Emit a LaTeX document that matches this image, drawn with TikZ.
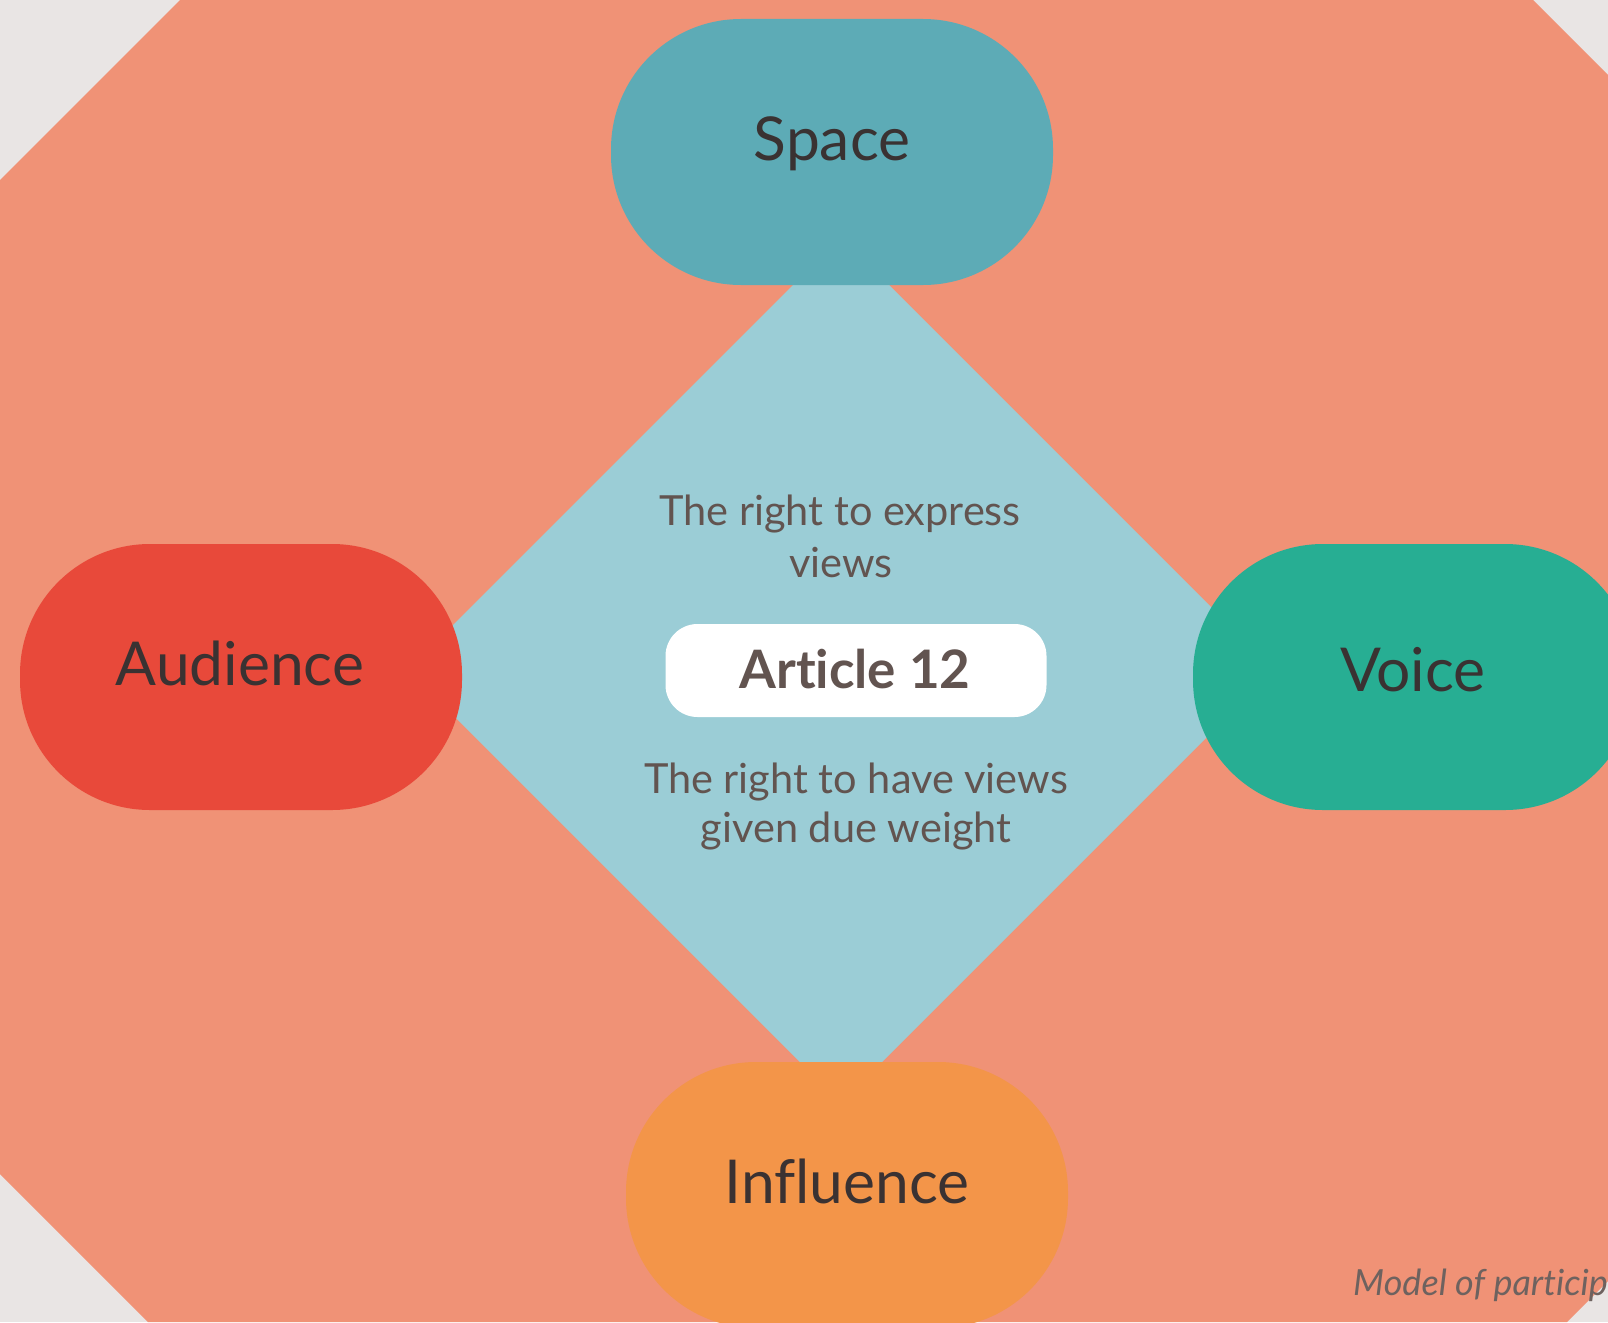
\documentclass[tikz,border=0pt]{standalone}
\usepackage{fontspec}
\setmainfont{Lato}[Ligatures=NoCommon]
\definecolor{bggrey}{HTML}{E9E5E4}
\definecolor{salmon}{HTML}{F09276}
\definecolor{diamondblue}{HTML}{9BCDD6}
\definecolor{spacecol}{HTML}{5DABB6}
\definecolor{audiencecol}{HTML}{E8493A}
\definecolor{voicecol}{HTML}{27AE93}
\definecolor{influencecol}{HTML}{F39549}
\definecolor{labeltext}{HTML}{3A3232}
\definecolor{bodytext}{HTML}{625450}
\definecolor{notetext}{HTML}{6E625F}
\tikzset{
  stadium/.style={rectangle, rounded corners=130pt, minimum width=442pt, minimum height=266pt, inner sep=0pt, draw=none},
  biglabel/.style={anchor=base, inner sep=0pt, text=labeltext, font=\fontsize{60.5}{62}\selectfont},
  bodyline/.style={anchor=base, inner sep=0pt, text=bodytext, font=\fontsize{41.5}{43}\selectfont},
  articlebox/.style={rectangle, rounded corners=32pt, minimum width=381pt, minimum height=93pt, fill=white, inner sep=0pt},
  articlelabel/.style={anchor=base, inner sep=0pt, text=bodytext, font=\bfseries\fontsize{53}{55}\selectfont},
  notelabel/.style={anchor=base west, inner sep=0pt, text=notetext, font=\itshape\fontsize{36}{38}\selectfont}
}
\begin{document}
\begin{tikzpicture}[x=1pt,y=-1pt]
\useasboundingbox (0,0) rectangle (1608,1322);
\clip (0,0) rectangle (1608,1322);
\fill[bggrey] (0,0) rectangle (1608,1322);
% octagon
\fill[salmon] (0,180) -- (180,0) -- (1533,0) -- (1608,75) -- (1608,1281) -- (1567,1322) -- (148,1322) -- (0,1174) -- cycle;
% diamond
\fill[diamondblue] (841,237) -- (1274,670) -- (841,1103) -- (408,670) -- cycle;
% four stadiums
\node[stadium, fill=spacecol] (space) at (832,152) {};
\node[stadium, fill=audiencecol] (audience) at (241,677) {};
\node[stadium, fill=voicecol] (voice) at (1414,677) {};
\node[stadium, fill=influencecol] (influence) at (847,1195) {};
\node[biglabel] (spacet) at (832,160) {Space};
\node[biglabel] (audiencet) at (240,685) {Audience};
\node[biglabel] (voicet) at (1413,691) {Voice};
\node[biglabel] (influencet) at (847,1203) {Influence};
% centre
\node[articlebox] (article) at (856,670.5) {};
\node[articlelabel] (articlet) at (855,688) {Article 12};
\node[bodyline] (expressa) at (840,525) {The right to express};
\node[bodyline] (expressb) at (841,577) {views};
\node[bodyline] (weighta) at (856,793) {The right to have views};
\node[bodyline] (weightb) at (856,842) {given due weight};
\node[notelabel] (note) at (1353,1295) {Model of participation};
\end{tikzpicture}
\end{document}
